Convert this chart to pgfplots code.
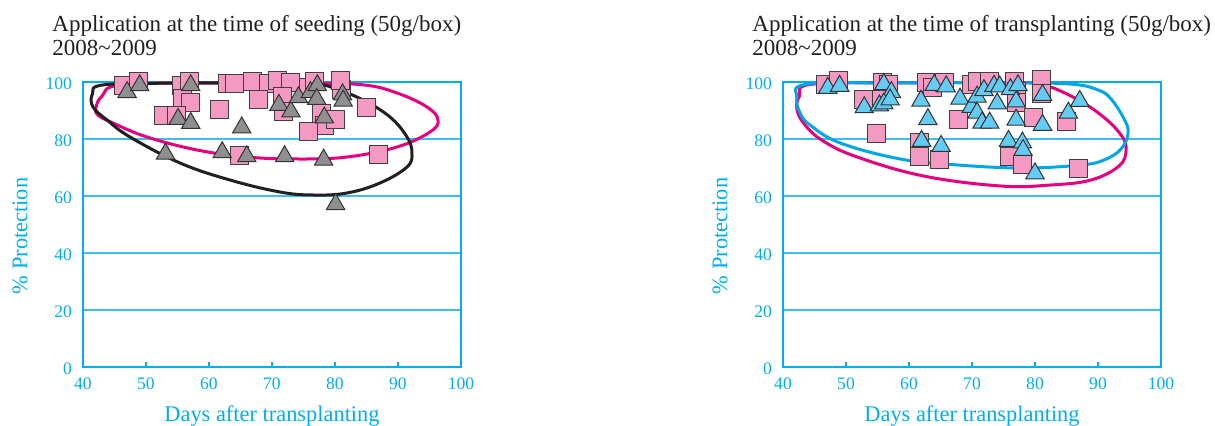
\documentclass[border=0pt]{standalone}
\usepackage{fontspec}
\setmainfont{Liberation Serif}
\usepackage{pgfplots}
\pgfplotsset{compat=1.18}
\definecolor{axiscyan}{RGB}{0,174,239}
\definecolor{gridcyan}{RGB}{60,190,240}
\definecolor{sqpink}{RGB}{244,154,194}
\definecolor{trigray}{RGB}{143,143,145}
\definecolor{triblue}{RGB}{100,204,244}
\definecolor{pinkell}{RGB}{230,0,126}
\definecolor{blueell}{RGB}{0,166,230}
\definecolor{blackell}{RGB}{35,31,32}
\definecolor{titletext}{RGB}{35,31,32}
\pgfplotsset{myaxis/.style={
  scale only axis, width=189pt, height=142.5pt,
  xmin=40, xmax=100, ymin=0, ymax=100,
  xtick={40,50,...,100}, ytick={0,20,...,100},
  ymajorgrids, grid style={gridcyan, line width=0.6pt},
  axis line style={axiscyan, line width=0.8pt},
  xtick style={axiscyan, line width=0.6pt},
  ytick style={draw=none},
  xtick align=inside, xtick pos=bottom, ytick pos=left,
  major tick length=2.5pt,
  /pgf/number format/assume math mode=true,
  ticklabel style={font=\fontsize{8.8}{10}\selectfont, text=axiscyan},
  yticklabel style={xshift=-2pt, yshift=-1pt},
  xticklabel style={yshift=-1.8pt},
  xlabel={Days after transplanting},
  ylabel={\% Protection},
  label style={font=\fontsize{11.2}{13}\selectfont, text=axiscyan},
  xlabel style={at={(rel axis cs:0.5,0)}, anchor=base, yshift=-27.3pt},
  ylabel style={at={(axis description cs:-0.1667,0.46)}, anchor=center},
  clip=false,
}}
\begin{document}
\begin{tikzpicture}
\useasboundingbox (0,0) rectangle (607.5pt,213pt);
% ---------------- Left panel ----------------
\begin{axis}[myaxis, at={(41.5pt,29.5pt)}, anchor=south west, name=L]
\addplot[only marks, mark=square*, mark size=4.5pt, mark options={fill=sqpink, draw=black!75, line width=0.5pt}] coordinates {
(46.5,98.9) (48.8,100.2) (55.7,98.6) (56.9,100) (55.8,94.3) (57.0,92.7)
(52.7,88.3) (54.9,88.3) (61.7,90.2) (62.9,99.5) (64.0,99.3) (66.9,100)
(69.4,99.6) (67.9,93.9) (70.9,100.5) (72.9,99.8) (71.6,94.8) (71.8,89.6)
(75.8,98.1) (76.8,100) (77.9,88.8) (78.3,84.6) (80.1,86.7) (75.8,82.6)
(81.0,97.5) (80.9,100.5) (85.0,91.1) (86.9,74.5) (64.9,74.2)
};
\draw[pinkell, line width=1.5pt] plot[smooth cycle, tension=0.65] coordinates {
(axis cs:46.0,99.0) (axis cs:60.0,99.6) (axis cs:75.0,99.6) (axis cs:84.44,99.0)
(axis cs:89.84,96.14) (axis cs:94.60,91.23) (axis cs:96.35,86.67) (axis cs:95.08,82.46)
(axis cs:89.84,77.19) (axis cs:81.90,73.68) (axis cs:73.97,72.98) (axis cs:66.03,73.68)
(axis cs:58.10,76.14) (axis cs:50.16,80.70) (axis cs:44.76,85.61) (axis cs:42.38,88.42)
(axis cs:42.06,91.0) (axis cs:43.0,95.0)};
\draw[blackell, line width=1.5pt] plot[smooth cycle, tension=0.65] coordinates {
(axis cs:43.3,99.0) (axis cs:55.0,99.6) (axis cs:67.0,99.6) (axis cs:76.51,99.2)
(axis cs:79.68,98.0) (axis cs:84.44,93.68) (axis cs:88.73,87.72) (axis cs:91.43,80.70)
(axis cs:92.22,75.09) (axis cs:91.43,70.18) (axis cs:87.14,64.56) (axis cs:81.90,61.05)
(axis cs:76.51,60.35) (axis cs:71.27,61.40) (axis cs:63.33,65.61) (axis cs:55.40,71.58)
(axis cs:47.46,80.70) (axis cs:43.81,86.67) (axis cs:41.59,91.23) (axis cs:41.5,95.8)};
\addplot[only marks, mark=triangle*, mark size=5.3pt, mark options={fill=trigray, draw=black!80, line width=0.5pt}] coordinates {
(47.0,96.4) (49.0,98.8) (57.1,98.8) (55.1,87.0) (57.1,85.6) (65.2,84.0)
(71.1,91.9) (73.0,89.6) (74.2,94.6) (76.1,96.4) (77.2,98.8) (77.1,94.0)
(78.3,87.5) (81.2,95.6) (81.3,93.4) (53.1,74.8) (62.1,75.3) (66.0,73.9)
(72.0,73.9) (78.2,72.7) (80.1,57.1)
};
\end{axis}
\node[anchor=base west, text=titletext, font=\fontsize{11.5}{13}\selectfont, inner sep=0pt] at ([xshift=-15.5pt, yshift=25pt]L.north west) {Application at the time of seeding (50g/box)};
\node[anchor=base west, text=titletext, font=\fontsize{11.5}{13}\selectfont, inner sep=0pt] at ([xshift=-15.5pt, yshift=13pt]L.north west) {2008\textasciitilde2009};
% ---------------- Right panel ----------------
\begin{axis}[myaxis, at={(391.5pt,29.5pt)}, anchor=south west, name=R]
\addplot[only marks, mark=square*, mark size=4.5pt, mark options={fill=sqpink, draw=black!75, line width=0.5pt}] coordinates {
(46.8,99.1) (48.8,100.5) (55.8,99.8) (56.8,99.1) (52.8,93.7) (55.7,93.9)
(54.9,81.8) (62.7,99.8) (63.8,98.1) (65.7,99.8) (61.7,78.7) (61.7,73.8)
(64.9,72.9) (67.9,86.9) (69.9,99.1) (70.9,100.2) (72.7,100.2) (76.8,100)
(77.0,96.5) (77.0,92.7) (81.0,100.7) (81.0,96.0) (79.7,87.5) (85.0,86.2)
(76.0,73.8) (78.0,71.2) (86.9,69.6)
};
\draw[pinkell, line width=1.5pt] plot[smooth cycle, tension=0.65] coordinates {
(axis cs:44.5,99.2) (axis cs:58.63,99.7) (axis cs:74.55,99.7) (axis cs:80.61,99.3)
(axis cs:85.70,95.09) (axis cs:90.48,88.42) (axis cs:93.66,81.40) (axis cs:94.46,76.14)
(axis cs:93.34,70.53) (axis cs:88.89,65.61) (axis cs:82.52,63.86) (axis cs:74.55,63.51)
(axis cs:62.29,67.02) (axis cs:51.78,73.68) (axis cs:46.37,79.30) (axis cs:43.50,84.91)
(axis cs:42.23,90.18) (axis cs:42.6,95.0)};
\draw[blueell, line width=1.5pt] plot[smooth cycle, tension=0.65] coordinates {
(axis cs:43.8,99.2) (axis cs:58.63,99.7) (axis cs:74.55,99.7) (axis cs:85.5,99.3)
(axis cs:90.0,97.2) (axis cs:92.07,94.04) (axis cs:94.14,87.02) (axis cs:94.78,82.11)
(axis cs:93.66,76.49) (axis cs:90.96,72.63) (axis cs:87.29,70.88) (axis cs:78.22,69.82)
(axis cs:67.71,70.88) (axis cs:58.63,72.98) (axis cs:49.08,78.60) (axis cs:44.30,84.91)
(axis cs:42.71,89.12) (axis cs:42.2,94.5)};
\addplot[only marks, mark=triangle*, mark size=5.3pt, mark options={fill=triblue, draw=black!80, line width=0.5pt}] coordinates {
(47.1,97.9) (49.0,98.6) (56.0,99.2) (57.2,96.4) (52.9,91.1) (55.3,91.7)
(56.0,92.4) (57.0,93.8) (64.0,98.9) (65.9,98.4) (61.9,93.4) (63.0,86.9)
(62.0,79.3) (65.1,77.5) (68.1,94.1) (69.9,91.2) (70.8,94.8) (71.9,97.1)
(73.5,98.6) (74.4,98.4) (76.1,97.4) (77.3,98.8) (74.0,92.4) (77.0,93.1)
(70.8,89.2) (71.6,85.7) (72.8,85.7) (77.0,86.7) (81.2,95.4) (81.2,84.9)
(85.3,89.2) (87.1,93.3) (75.8,79.3) (78.0,78.7) (78.1,76.1) (80.0,67.9)
};
\end{axis}
\node[anchor=base west, text=titletext, font=\fontsize{11.5}{13}\selectfont, inner sep=0pt] at ([xshift=-15.5pt, yshift=25pt]R.north west) {Application at the time of transplanting (50g/box)};
\node[anchor=base west, text=titletext, font=\fontsize{11.5}{13}\selectfont, inner sep=0pt] at ([xshift=-15.5pt, yshift=13pt]R.north west) {2008\textasciitilde2009};
\end{tikzpicture}
\end{document}
